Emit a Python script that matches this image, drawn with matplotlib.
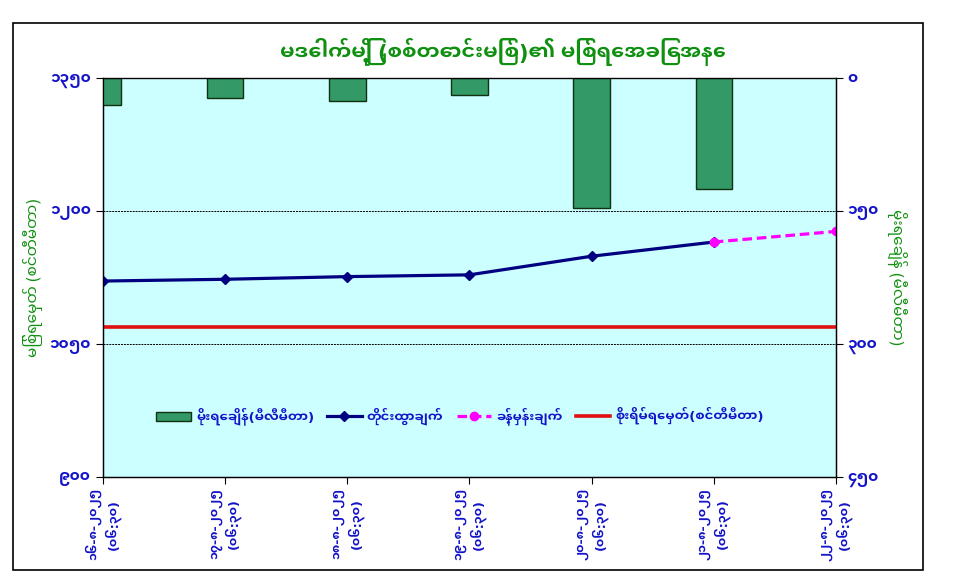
import numpy as np
import matplotlib
matplotlib.use("Agg")
import matplotlib.pyplot as plt
import matplotlib.font_manager as fm
from matplotlib.patches import Rectangle

# ---------------- data ----------------
categories = ["၁၆-၈-၂၀၂၅\n(၀၆:၃၀)", "၁၇-၈-၂၀၂၅\n(၀၆:၃၀)", "၁၈-၈-၂၀၂၅\n(၀၆:၃၀)",
              "၁၉-၈-၂၀၂၅\n(၀၆:၃၀)", "၂၀-၈-၂၀၂၅\n(၀၆:၃၀)", "၂၁-၈-၂၀၂၅\n(၀၆:၃၀)",
              "၂၂-၈-၂၀၂၅\n(၀၆:၃၀)"]
rainfall_mm = [30, 22, 25.5, 19.5, 147, 125.5]
water_level = [1121, 1123, 1126, 1128, 1149, 1165]
forecast = [np.nan, np.nan, np.nan, np.nan, np.nan, 1165, 1177]
danger_level = 1069
left_ticks = [900, 1050, 1200, 1350]
left_tick_labels = ["၉၀၀", "၁၀၅၀", "၁၂၀၀", "၁၃၅၀"]
right_ticks = [0, 150, 300, 450]
right_tick_labels = ["၀", "၁၅၀", "၃၀၀", "၄၅၀"]
title = "မဒေါက်မြို့ (စစ်တောင်းမြစ်)၏ မြစ်ရေအခြေအနေ"
left_label = "မြစ်ရေမှတ် (စင်တီမီတာ)"
right_label = "မိုးရေချိန် (မီလီမီတာ)"
legend_labels = ["မိုးရေချိန်(မီလီမီတာ)", "တိုင်းထွာချက်", "ခန့်မှန်းချက်", "စိုးရိမ်ရေမှတ်(စင်တီမီတာ)"]

# ---------------- fonts ----------------
names = {f.name for f in fm.fontManager.ttflist}
mm = next((n for n in ["Noto Sans Myanmar UI", "Noto Sans Myanmar", "Padauk", "Myanmar Sans Pro"]
           if n in names), None)
plt.rcParams["font.family"] = ([mm] if mm else []) + ["DejaVu Sans"]
plt.rcParams["font.weight"] = "bold"

blue = "#1414C8"
green = "#109010"

fig = plt.figure(figsize=(9.57, 5.87), dpi=100)
fig.patch.set_facecolor("white")
fig.patches.append(Rectangle((13 / 957, 1 - 570 / 587), (923 - 13) / 957, (570 - 23) / 587,
                             transform=fig.transFigure, fill=False, edgecolor="black", lw=1.2))

ax = fig.add_axes([103 / 957, 1 - 477 / 587, 733 / 957, 399 / 587])
ax.set_facecolor("#CCFFFF")
x = np.arange(len(categories))

ax.set_xlim(0, len(categories) - 1)
ax.set_ylim(900, 1350)
for g in [1050, 1200]:
    ax.axhline(g, color="black", lw=0.7, ls=(0, (2, 1)), zorder=1)

ax.plot(x, [danger_level] * len(x), color="#E01010", lw=2.6, zorder=3)
ln_obs, = ax.plot(x[:len(water_level)], water_level, color="#000080", lw=2.3,
                  marker="D", ms=5, zorder=4)
ln_fc, = ax.plot(x, forecast, color="#FF00FF", lw=2.3, ls=(0, (3, 1.5)),
                 marker="o", ms=6, zorder=4)
ln_dg = plt.Line2D([], [], color="#E01010", lw=2.6)

ax.set_yticks(left_ticks)
ax.set_yticklabels(left_tick_labels)
ax.set_xticks(x)
ax.set_xticklabels(categories, rotation=90, ha="center", va="top", multialignment="center")
ax.tick_params(axis="both", direction="out", length=5, colors="black", labelcolor=blue, labelsize=11)
ax.tick_params(axis="x", pad=3, labelsize=9)
ax.set_ylabel(left_label, color=green, fontsize=11, labelpad=5)

ax2 = ax.twinx()
ax2.set_ylim(450, 0)
bars = ax2.bar(x[:len(rainfall_mm)], rainfall_mm, width=0.3, color="#339966",
               edgecolor="#103010", lw=1, zorder=2)
ax2.set_yticks(right_ticks)
ax2.set_yticklabels(right_tick_labels)
ax2.tick_params(axis="y", direction="out", length=5, labelcolor=blue, labelsize=11)
ax2.set_ylabel(right_label, color=green, fontsize=11, rotation=270, labelpad=20)

for a in (ax, ax2):
    for s in a.spines.values():
        s.set_color("black")
        s.set_linewidth(0.9)
ax.spines["top"].set_color("#707070")

leg = ax2.legend([bars, ln_obs, ln_fc, ln_dg], legend_labels, ncol=4, frameon=False,
                 loc="center", bbox_to_anchor=(0.487, 0.153), handlelength=2.6,
                 columnspacing=1.0, handletextpad=0.4,
                 prop={"weight": "bold", "size": 9.5})
for t in leg.get_texts():
    t.set_color(blue)

fig.text(503 / 957, 1 - 52 / 587, title, color=green, fontsize=15, fontweight="bold",
         ha="center", va="center")

fig.savefig("out.png", dpi=100)
